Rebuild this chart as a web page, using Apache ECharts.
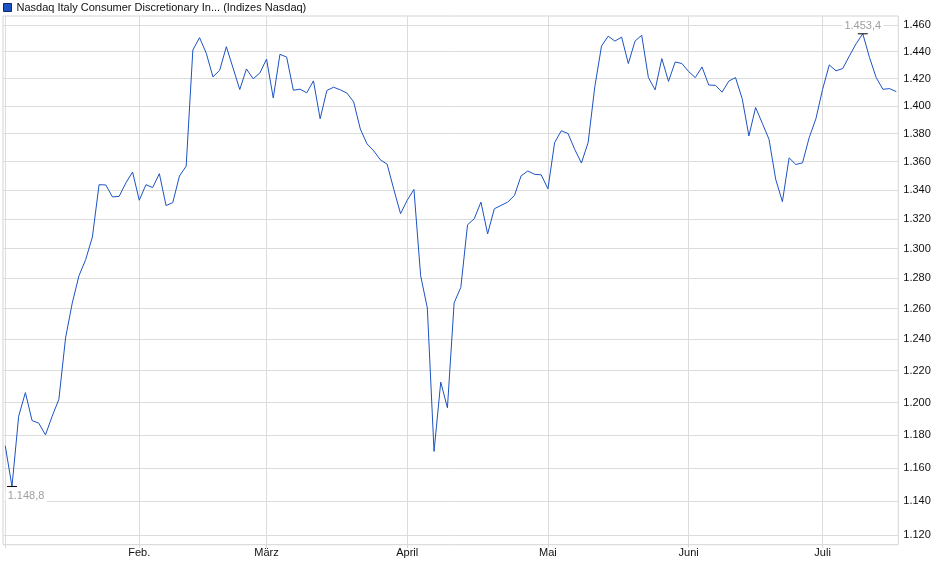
<!DOCTYPE html>
<html>
<head>
	<title>Nasdaq Italy Consumer Discretionary</title>
	<meta charset="utf-8" />
	<script src="https://cdn.jsdelivr.net/npm/echarts@6/dist/echarts.min.js"></script>
	<style>
		html, body { margin: 0; padding: 0; background: #fff; }
		#chart { width: 940px; height: 579px; }
	</style>
</head>
<body>
<div id="chart"></div>
<script type="text/javascript">
var seriesName = 'Nasdaq Italy Consumer Discretionary In... (Indizes Nasdaq)';

// daily closes, one per trading day (Jan - mid July)
var closes = [
	1173.3, 1148.8, 1191.5, 1206.2, 1188.8, 1187.2, 1180.0, 1191.5, 1202.0, 1241.0,
	1263.7, 1281.7, 1292.5, 1307.7, 1343.8, 1343.6, 1335.3, 1335.7, 1345.0, 1352.7,
	1333.0, 1343.8, 1341.8, 1351.5, 1329.3, 1331.3, 1349.9, 1356.8, 1441.2, 1450.5,
	1438.8, 1421.2, 1426.1, 1443.7, 1427.8, 1411.9, 1427.1, 1419.8, 1424.1, 1434.4,
	1405.7, 1438.0, 1435.9, 1411.4, 1412.2, 1409.5, 1418.3, 1390.6, 1411.2, 1413.6,
	1411.7, 1409.3, 1402.9, 1383.2, 1372.6, 1367.6, 1361.2, 1358.2, 1340.5, 1323.7,
	1333.0, 1340.5, 1281.8, 1260.4, 1169.9, 1212.8, 1196.7, 1263.8, 1274.0, 1316.1,
	1320.2, 1331.7, 1309.9, 1327.1, 1329.4, 1331.7, 1336.3, 1350.0, 1353.4, 1351.1,
	1350.7, 1340.9, 1373.5, 1382.0, 1380.0, 1368.7, 1359.0, 1373.5, 1414.0, 1444.2,
	1451.6, 1447.9, 1450.9, 1431.1, 1447.9, 1452.3, 1420.7, 1411.7, 1434.8, 1417.9,
	1432.3, 1431.1, 1425.2, 1420.7, 1428.6, 1415.2, 1415.0, 1410.0, 1418.1, 1420.7,
	1405.2, 1378.3, 1398.8, 1387.4, 1375.9, 1347.6, 1332.0, 1362.7, 1358.0, 1359.1,
	1377.1, 1390.6, 1412.1, 1430.1, 1425.7, 1427.4, 1436.8, 1445.9, 1453.4, 1435.6,
	1420.7, 1412.1, 1412.6, 1410.4
];

// first trading day of each month (index into closes)
var monthStarts = [0, 20, 39, 60, 81, 102, 122];
var monthLabels = ['', 'Feb.', 'März', 'April', 'Mai', 'Juni', 'Juli'];

var yTicks = [1120, 1140, 1160, 1180, 1200, 1220, 1240, 1260, 1280, 1300, 1320, 1340, 1360, 1380, 1400, 1420, 1440, 1460];
var yMin = 1114.55, yMax = 1466.9;

// german number format, e.g. 1453.4 -> "1.453,4"
function fmtDe(v, dec) {
	var s = v.toFixed(dec).split('.');
	var ints = s[0].replace(/\B(?=(\d{3})+(?!\d))/g, '.');
	return dec > 0 ? ints + ',' + s[1] : ints;
}

// price axis is logarithmic, so plot ln(value)
var lineData = [];
for (var i = 0; i < closes.length; i++) {
	lineData.push([i, Math.log(closes[i])]);
}
var yTickLn = yTicks.map(function (v) { return Math.log(v); });

var myChart = echarts.init(document.getElementById('chart'), null, { renderer: 'canvas' });
var option = {
	animation: false,
	textStyle: { fontFamily: 'Liberation Sans, Arial, sans-serif' },
	legend: {
		left: 3,
		top: 2,
		padding: 0,
		itemWidth: 8,
		itemHeight: 8,
		itemGap: 5,
		icon: 'rect',
		data: [{ name: seriesName, itemStyle: { color: '#1c52c2', borderColor: '#0b2a6a', borderWidth: 1 } }],
		textStyle: { fontSize: 11, color: '#111', padding: [1, 0, 0, 0] }
	},
	grid: {
		left: 3,
		right: 41.7,
		top: 16,
		bottom: 34.3,
		show: true,
		borderColor: '#d4d4d4',
		borderWidth: 1
	},
	xAxis: {
		type: 'value',
		min: -0.34,
		max: 133.3,
		axisLine: { show: false },
		axisTick: {
			show: true,
			length: 3,
			customValues: monthStarts,
			lineStyle: { color: '#d4d4d4' }
		},
		axisLabel: {
			customValues: monthStarts,
			margin: 3,
			fontSize: 11,
			color: '#111',
			formatter: function (v) {
				var k = monthStarts.indexOf(Math.round(v));
				return k >= 0 ? monthLabels[k] : '';
			}
		},
		splitLine: { show: true, lineStyle: { color: '#dcdcdc', width: 1 } }
	},
	yAxis: {
		type: 'value',
		position: 'right',
		min: Math.log(yMin),
		max: Math.log(yMax),
		axisLine: { show: false },
		axisTick: { show: false, customValues: yTickLn },
		axisLabel: {
			customValues: yTickLn,
			margin: 5,
			fontSize: 11,
			color: '#111',
			formatter: function (v) { return fmtDe(Math.round(Math.exp(v)), 0); }
		},
		splitLine: { show: true, lineStyle: { color: '#dcdcdc', width: 1 } }
	},
	series: [{
		name: seriesName,
		type: 'line',
		data: lineData,
		showSymbol: false,
		symbol: 'none',
		color: '#1c52c2',
		lineStyle: { color: '#1c52c2', width: 1 },
		markPoint: {
			symbol: 'rect',
			symbolSize: [10, 1],
			itemStyle: { color: '#000' },
			label: {
				show: true,
				fontSize: 11,
				color: '#a0a0a0',
				backgroundColor: '#fff',
				padding: [0, 2],
				formatter: function (p) { return fmtDe(Math.exp(p.value), 1); }
			},
			data: [
				{ type: 'max', label: { position: 'top', distance: 2 } },
				{ type: 'min', label: { position: 'bottom', distance: 4, offset: [14, 0] } }
			]
		}
	}]
};
myChart.setOption(option);
</script>
</body>
</html>
